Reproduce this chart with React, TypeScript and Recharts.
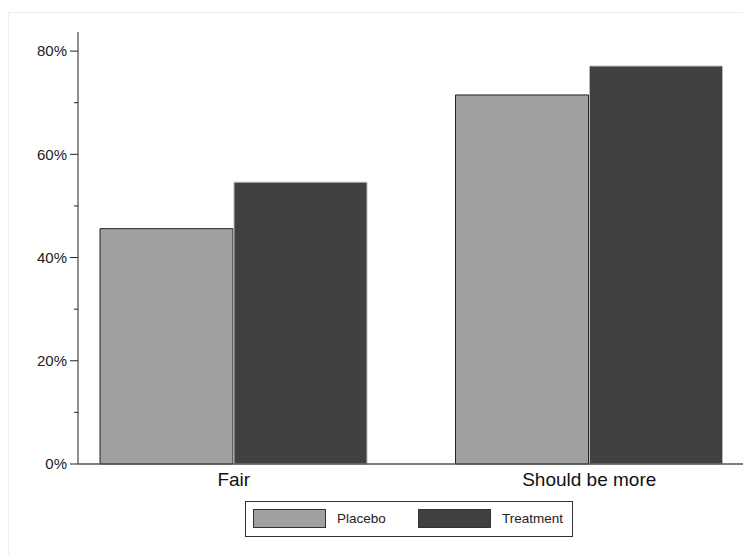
import { BarChart, Bar, XAxis, YAxis, Legend } from "recharts";

const categories = ["Fair", "Should be more"];
const placebo = [45.6, 71.5];
const treatment = [54.6, 77.1];
const yTicks = [0, 10, 20, 30, 40, 50, 60, 70, 80];

const SERIES = [
	{ key: "placebo", name: "Placebo", fill: "#a0a0a0", stroke: "#222222", swatchX: 8, textX: 92 },
	{ key: "treatment", name: "Treatment", fill: "#404040", stroke: "#b8b8b8", swatchX: 173, textX: 257 },
];

const FONT = "'Liberation Sans', Arial, Helvetica, sans-serif";

const data = categories.map((c, i) => ({ name: c, placebo: placebo[i], treatment: treatment[i] }));

function YTick(props: any) {
	const { x, y, payload } = props;
	const major = payload.value % 20 === 0;
	return (
		<g>
			<line x1={x - (major ? 8 : 4)} x2={x} y1={y} y2={y} stroke="#222" strokeWidth={1} />
			{major && (
				<text x={x - 11} y={y} dy="0.35em" textAnchor="end" fontSize={15} fill="#222" fontFamily={FONT}>
					{payload.value}%
				</text>
			)}
		</g>
	);
}

function LegendBox() {
	return (
		<div
			style={{
				position: "relative",
				boxSizing: "border-box",
				width: 328,
				height: 36,
				border: "1px solid #333",
				fontFamily: FONT,
				fontSize: 13.5,
				color: "#222",
				background: "#fff",
			}}
		>
			{SERIES.map((s) => (
				<div key={s.key}>
					<div
						style={{
							position: "absolute",
							left: s.swatchX - 1,
							top: 7,
							boxSizing: "border-box",
							width: 73,
							height: 19,
							background: s.fill,
							border: "1px solid #333",
						}}
					/>
					<span style={{ position: "absolute", left: s.textX - 1, top: 8, lineHeight: "17px" }}>{s.name}</span>
				</div>
			))}
		</div>
	);
}

export default function App() {
	return (
		<div style={{ position: "relative", width: 743, height: 547, background: "#fff" }}>
			<div
				style={{
					position: "absolute",
					left: 0,
					top: 4,
					width: 760,
					height: 560,
					borderTop: "1px solid #ececec",
					borderLeft: "1px solid #ececec",
				}}
			/>
			<div style={{ position: "absolute", left: 0, top: 0 }}>
				<BarChart
					width={743}
					height={547}
					data={data}
					margin={{ top: 24, right: 6, bottom: 25, left: 0 }}
					barCategoryGap={44}
					barGap={1}
				>
					<YAxis
						type="number"
						domain={[0, 83.7]}
						ticks={yTicks}
						interval={0}
						width={70}
						tickSize={0}
						tickMargin={0}
						tickLine={false}
						axisLine={{ stroke: "#222", strokeWidth: 1 }}
						tick={<YTick />}
					/>
					<XAxis
						dataKey="name"
						padding={{ left: -22, right: -22 }}
						tickLine={false}
						tickSize={0}
						tickMargin={9}
						height={30}
						axisLine={{ stroke: "#555", strokeWidth: 1.5 }}
						tick={{ fontSize: 19, fill: "#111", fontFamily: FONT }}
					/>
					<Legend
						content={<LegendBox />}
						wrapperStyle={{ position: "absolute", left: 237, top: 493, width: 328, height: 36 }}
					/>
					{SERIES.map((s) => (
						<Bar
							key={s.key}
							dataKey={s.key}
							name={s.name}
							fill={s.fill}
							stroke={s.stroke}
							strokeWidth={1}
							isAnimationActive={false}
						/>
					))}
				</BarChart>
			</div>
		</div>
	);
}
